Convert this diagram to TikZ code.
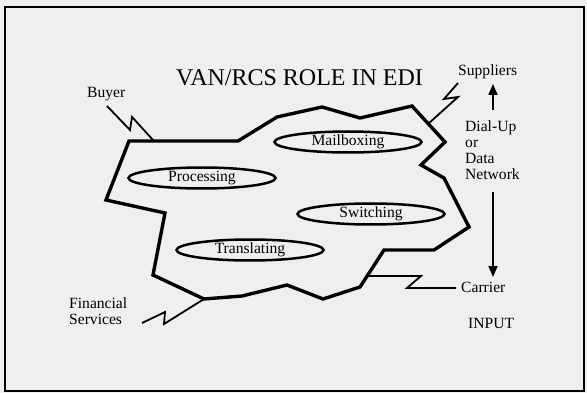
\documentclass[tikz,border=0pt]{standalone}
\usepackage{fontspec}
\setmainfont{Liberation Serif}
\usetikzlibrary{shapes.geometric,arrows.meta}

\definecolor{paper}{RGB}{239,239,237}

\tikzset{
  lbl/.style={inner sep=0pt, font=\fontsize{15.6}{16}\selectfont},
  task/.style={ellipse, draw, line width=2.5pt, minimum width=147pt,
    minimum height=21pt, inner sep=0pt, font=\fontsize{15.6}{16}\selectfont},
  cloud/.style={line width=3.4pt, line join=miter},
  bolt/.style={line width=1.8pt},
  flow/.style={line width=1.6pt, -{Triangle[length=11pt,width=9pt]}}
}

\begin{document}
\begin{tikzpicture}[x=1pt,y=-1pt]
\fill[paper] (0,0) rectangle (587,393);
\useasboundingbox (0,0) rectangle (587,393);
\draw[line width=1.4pt] (5,7) rectangle (584,391);

\node[inner sep=0pt, anchor=base, font=\fontsize{24}{28}\selectfont] (title) at (299.5,86) {VAN/RCS ROLE IN EDI};

\draw[cloud] (129,141) -- (238,141) -- (277,117) -- (322,107) -- (360,118)
  -- (412,106) -- (445,142) -- (421,165) -- (444,178) -- (469,227)
  -- (434,250) -- (384,250) -- (360,287) -- (323,299) -- (287,285)
  -- (242,296) -- (204,299) -- (153,275) -- (165,213) -- (106,200) -- cycle;

\node[task] (mail) at (348,142) {Mailboxing};
\node[task] (proc) at (202,178) {Processing};
\node[task] (switch) at (371,214) {Switching};
\node[task] (trans) at (250,250) {Translating};

\node[lbl, anchor=base west] (buyer) at (87,98) {Buyer};
\node[lbl, anchor=base west] (suppliers) at (458,76) {Suppliers};
\node[lbl, anchor=north west, align=left] (dialup) at (465,120) {Dial-Up\\or\\Data\\Network};
\node[lbl, anchor=base west] (carrier) at (461,292) {Carrier};
\node[lbl, anchor=base west] (input) at (468,328) {INPUT};
\node[lbl, anchor=north west, align=left] (finserv) at (69,297) {Financial\\Services};

\coordinate (buyerend) at (107,106);
\coordinate (buyerhit) at (153,140);
\coordinate (supend) at (458,83);
\coordinate (suphit) at (428,124);
\coordinate (finend) at (142,323);
\coordinate (finhit) at (204,299);
\coordinate (carend) at (456,288);
\coordinate (carhit) at (367,276);

\draw[bolt] (buyerend) -- (130,130) -- (132,117) -- (buyerhit);
\draw[bolt] (supend) -- (444,99) -- (458,97) -- (suphit);
\draw[bolt] (finend) -- (165,312) -- (164,324) -- (finhit);
\draw[bolt] (carhit) -- (421,276) -- (407,288) -- (carend);

\coordinate (uptail) at (493,110);
\coordinate (uphead) at (493,84);
\coordinate (downtail) at (493,192);
\coordinate (downhead) at (493,277);
\draw[flow] (uptail) -- (uphead);
\draw[flow] (downtail) -- (downhead);
\end{tikzpicture}
\end{document}
